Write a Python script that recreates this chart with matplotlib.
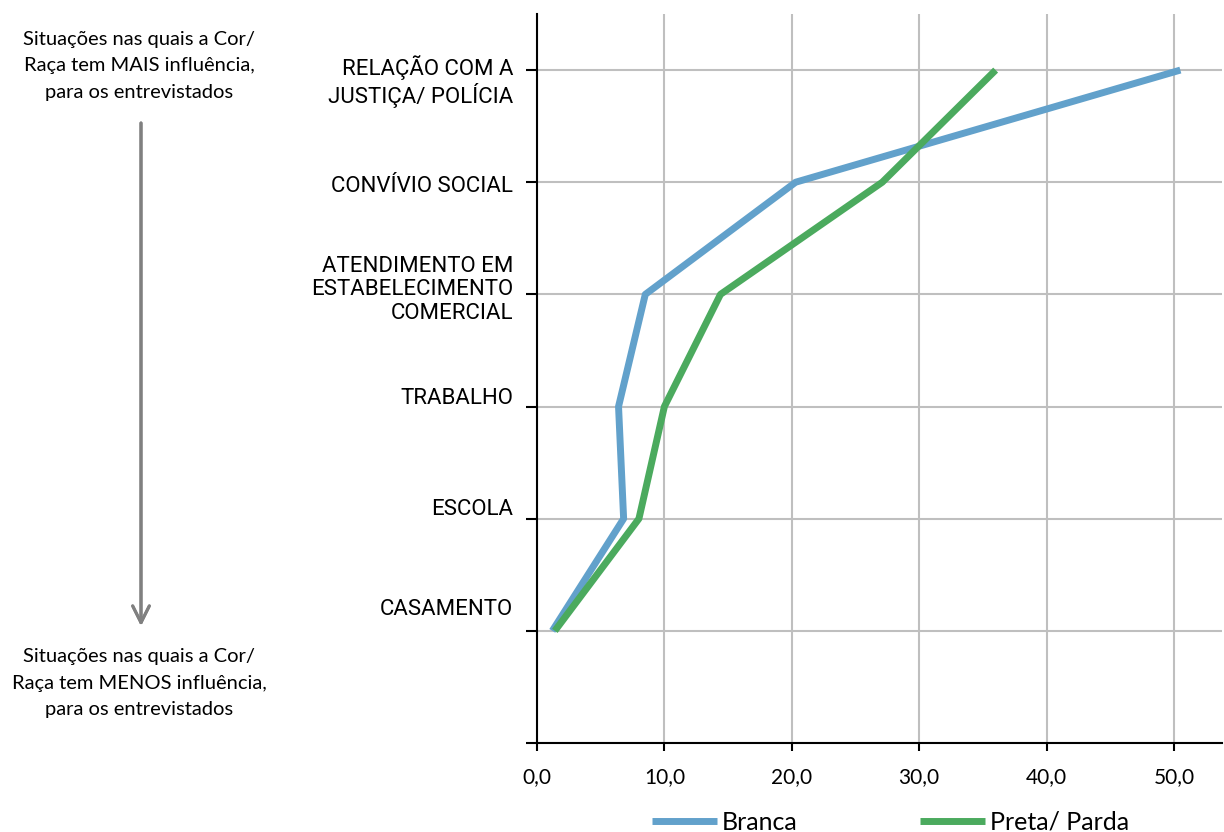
import numpy as np
import matplotlib.pyplot as plt
from matplotlib import transforms

# Data
categorias = ['CASAMENTO', 'ESCOLA', 'TRABALHO',
              'ATENDIMENTO EM\nESTABELECIMENTO\nCOMERCIAL',
              'CONVÍVIO SOCIAL', 'RELAÇÃO COM A\nJUSTIÇA/ POLÍCIA']
branca = [1.2, 6.8, 6.4, 8.5, 20.3, 50.5]
preta_parda = [1.4, 8.0, 10.0, 14.4, 27.1, 36.0]
xticks = [0, 10, 20, 30, 40, 50]
txt_mais = 'Situações nas quais a Cor/\nRaça tem MAIS influência,\npara os entrevistados'
txt_menos = 'Situações nas quais a Cor/\nRaça tem MENOS influência,\npara os entrevistados'

# layout only: vertical shift of each category label
label_shift = [0.19, 0.08, 0.07, 0.04, -0.04, -0.10]

azul = '#62A1CB'
verde = '#4BAA5E'
cat_font = ['Roboto', 'DejaVu Sans']

fig = plt.figure(figsize=(12.24, 8.32), dpi=100)
ax = fig.add_axes([537/1224, 1 - 743/832, (1222 - 537)/1224, (743 - 14)/832])

y = np.arange(1, len(categorias) + 1)
ax.plot(branca, y, color=azul, lw=5, solid_capstyle='butt', label='Branca', zorder=3)
ax.plot(preta_parda, y, color=verde, lw=5, solid_capstyle='butt', label='Preta/ Parda', zorder=3)

ax.set_xlim(0, (1222 - 537)/12.74)
ax.set_ylim(0, 6.5)
ax.set_xticks(xticks)
ax.set_xticklabels([f'{v:.1f}'.replace('.', ',') for v in xticks],
                   fontfamily='Lato', fontsize=15)
ax.set_yticks(np.arange(0, len(categorias) + 1))
ax.set_yticklabels([])
ax.grid(True, color='#BFBFBF', lw=1.5, zorder=0)
ax.set_axisbelow(True)
for s in ['top', 'right']:
    ax.spines[s].set_visible(False)
for s in ['left', 'bottom']:
    ax.spines[s].set_linewidth(1.5)
    ax.spines[s].set_color('black')
ax.tick_params(axis='y', length=8, width=1.5, direction='out')
ax.tick_params(axis='x', length=6, width=1.5, direction='out', pad=11)

trans = transforms.blended_transform_factory(ax.transAxes, ax.transData)
for i, cat in enumerate(categorias):
    ax.text(-0.035, y[i] + label_shift[i], cat, transform=trans, ha='right', va='center',
            fontsize=16, family=cat_font, linespacing=1.15, multialignment='right')

# left side annotation
fig.text(139/1224, 1 - 66/832, txt_mais, ha='center', va='center',
         fontsize=14.5, fontfamily='Lato', linespacing=1.7)
fig.text(139/1224, 1 - 683/832, txt_menos, ha='center', va='center',
         fontsize=14.5, fontfamily='Lato', linespacing=1.7)
fig.add_artist(plt.annotate('', xy=(141/1224, 1 - 626/832), xytext=(141/1224, 1 - 123/832),
                            xycoords='figure fraction', textcoords='figure fraction',
                            arrowprops=dict(arrowstyle='->,head_length=0.6,head_width=0.3',
                                            color='#808080', lw=2.2, mutation_scale=20,
                                            shrinkA=0, shrinkB=0)))

fig.legend(loc='center left', bbox_to_anchor=(652/1224, 1 - 822/832), ncol=2,
           frameon=False, prop={'family': 'Lato', 'size': 18},
           handlelength=2.6, handletextpad=0.2, columnspacing=4.9,
           borderpad=0, borderaxespad=0)

fig.savefig('out.png', dpi=100)
